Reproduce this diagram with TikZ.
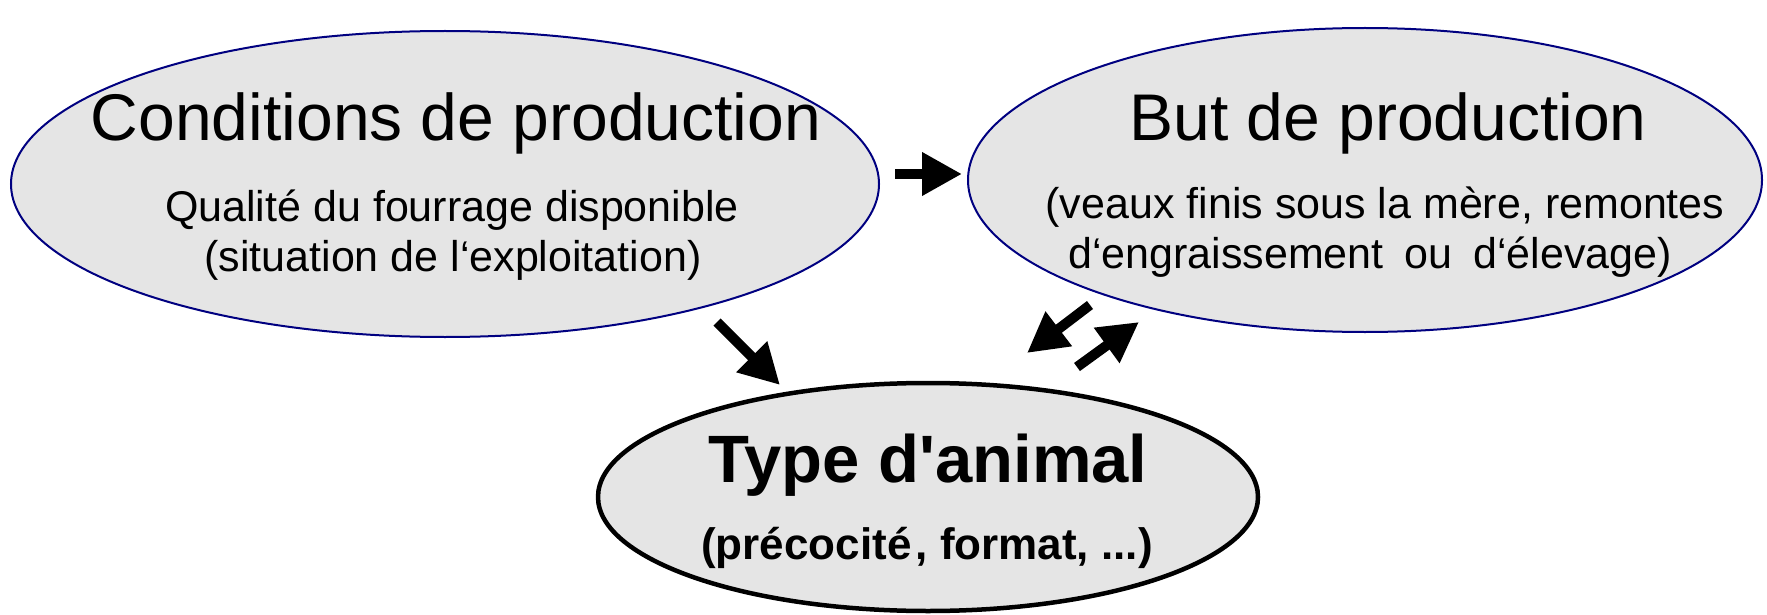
\documentclass[tikz,border=0pt]{standalone}
\usepackage{fontspec}
\setmainfont{Liberation Sans}
\usetikzlibrary{shapes.geometric,arrows.meta}
\definecolor{ellfill}{HTML}{E5E5E5}
\definecolor{navyline}{HTML}{000080}
\begin{document}
\begin{tikzpicture}[x=1pt,y=-1pt,
  ell/.style={ellipse, fill=ellfill, inner sep=0pt},
  thinell/.style={ell, draw=navyline, line width=2pt},
  thickell/.style={ell, draw=black, line width=4.5pt},
  txt/.style={anchor=base, inner sep=0pt, align=center},
  bigfont/.style={font=\fontsize{66}{70}\selectfont},
  smallfont/.style={font=\fontsize{43}{47}\selectfont},
  bigarrow/.style={line width=10pt, -{Triangle[length=40pt,width=41pt]}}]
\useasboundingbox (0,0) rectangle (1767,615);
% ellipses
\node[thinell, minimum width=868pt, minimum height=306pt] (cond) at (445,184) {};
\node[thinell, minimum width=794pt, minimum height=304pt] (but) at (1365,180) {};
\node[thickell, minimum width=660pt, minimum height=228pt] (type) at (928,497) {};
% texts
\node[txt, bigfont] (condT) at (456,141) {Conditions de production};
\node[txt, smallfont] (condS1) at (452,221) {Qualité du fourrage disponible};
\node[txt, smallfont] (condS2) at (453,271) {(situation de l‘exploitation)};
\node[txt, bigfont] (butT) at (1388,141) {But de production};
\node[txt, smallfont] (butS1) at (1385,218) {(veaux finis sous la mère, remontes};
\node[txt, smallfont] (butS2) at (1370,268) {d‘engraissement\hspace{9pt} ou\hspace{9pt} d‘élevage)};
\node[txt, font=\fontsize{67}{71}\selectfont\bfseries] (typeT) at (928,482) {Type d\textquotesingle animal};
\node[txt, font=\fontsize{44}{48}\selectfont\bfseries] (typeS) at (927,559) {(précocité\hspace{4pt}, format, ...)};
% arrows
\coordinate (h1) at (895,174);
\coordinate (h2) at (962,174);
\coordinate (d1) at (717,322);
\coordinate (d2) at (780,385);
\coordinate (p1s) at (1090,305);
\coordinate (p1e) at (1027,353);
\coordinate (p2s) at (1077,367);
\coordinate (p2e) at (1139,322);
\draw[bigarrow] (h1) -- (h2);
\draw[bigarrow] (d1) -- (d2);
\draw[bigarrow] (p1s) -- (p1e);
\draw[bigarrow] (p2s) -- (p2e);
\end{tikzpicture}
\end{document}
